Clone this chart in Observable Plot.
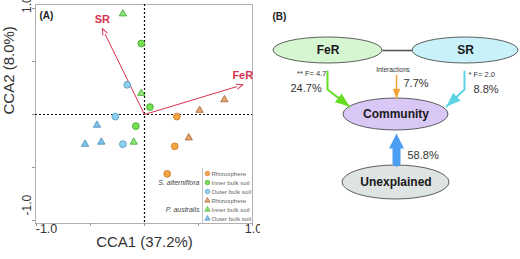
<!DOCTYPE html>
<html>
<head>
<meta charset="utf-8">
<script src="https://cdn.jsdelivr.net/npm/d3@7"></script>
<script src="https://cdn.jsdelivr.net/npm/@observablehq/plot@0.6"></script>
<style>
  html, body { margin: 0; padding: 0; background: white; }
  #wrap { display: flex; width: 520px; height: 259px; overflow: hidden; }
</style>
</head>
<body>
<div id="wrap"></div>
<script>
// ---------- Panel A data ----------
const hosts = ["S. alterniflora", "P. australis"];
const compartments = ["Rhizosphere", "Inner bulk soil", "Outer bulk soil"];
const sampleHost = [
  "S. alterniflora","S. alterniflora","S. alterniflora",
  "S. alterniflora","S. alterniflora","S. alterniflora",
  "S. alterniflora","S. alterniflora","S. alterniflora",
  "P. australis","P. australis","P. australis",
  "P. australis","P. australis","P. australis",
  "P. australis","P. australis","P. australis"
];
const sampleComp = [
  "Rhizosphere","Rhizosphere","Rhizosphere",
  "Inner bulk soil","Inner bulk soil","Inner bulk soil",
  "Outer bulk soil","Outer bulk soil","Outer bulk soil",
  "Rhizosphere","Rhizosphere","Rhizosphere",
  "Inner bulk soil","Inner bulk soil","Inner bulk soil",
  "Outer bulk soil","Outer bulk soil","Outer bulk soil"
];
const cca1 = [0.30, 0.28, 0.21, -0.03, 0.05, -0.08, -0.16, -0.27, -0.20,
              0.51, 0.74, 0.41, -0.20, -0.03, -0.10, -0.44, -0.55, -0.40];
const cca2 = [-0.02, -0.30, -0.56, 0.67, 0.07, -0.11, 0.28, -0.02, -0.28,
              0.04, 0.14, -0.22, 0.95, 0.20, -0.26, -0.10, -0.28, -0.26];
const envVars = ["SR", "FeR"];
const envCCA1 = [-0.39, 0.91];
const envCCA2 = [0.81, 0.28];
const xTicks = [-1, -0.5, 0, 0.5, 1];
const yTicks = [-1, -0.5, 0, 0.5, 1];
const tickLabels = [-1, 1];
const axisTitleX = "CCA1 (37.2%)";
const axisTitleY = "CCA2 (8.0%)";

// ---------- Panel B data ----------
const nodeNames = ["FeR", "SR", "Community", "Unexplained"];
const pathNames = ["FeR", "Interactions", "SR"];
const pathSig = ["**", "", "*"];
const pathF = [4.7, null, 2.0];
const pathPct = ["24.7%", "7.7%", "8.8%"];
const unexplainedPct = "58.8%";

// ---------- styles / layout ----------
const circleFill = ["#f3a443", "#74e050", "#8fd0ec"];
const circleStroke = ["#c8772b", "#3e9f2a", "#4a97c0"];
const triFill = ["#e3a670", "#90e67c", "#82c3e8"];
const triStroke = ["#a5622e", "#3ea52b", "#3f88b8"];
const red = "#d8304f";
const font = "'Liberation Sans', Arial, Helvetica, sans-serif";

const samples = cca1.map((v, i) => ({host: sampleHost[i], comp: sampleComp[i], cca1: v, cca2: cca2[i]}));
const env = envVars.map((n, i) => ({name: n, x: envCCA1[i], y: envCCA2[i]}));
const ci = c => compartments.indexOf(c);

// pixel-per-unit of panel A (for arrowhead angles)
const kx = (252 - 36) / 2, ky = (220 - 8) / 2;

// legend layout (data coordinates inside panel A)
const legX = 0.583, legTop = -0.557, legStep = 0.085;
const legRows = hosts.flatMap((h, hi) => compartments.map((c, cj) => ({host: h, comp: c, y: legTop - (hi * 3 + cj) * legStep})));
const legHosts = hosts.map((h, hi) => ({host: h, y: legTop - (hi * 3 + 1) * legStep,
  y1: legTop - hi * 3 * legStep + 0.045, y2: legTop - (hi * 3 + 2) * legStep - 0.045}));

const plotA = Plot.plot({
  width: 260, height: 259,
  marginLeft: 36, marginRight: 8, marginTop: 8, marginBottom: 39,
  x: {domain: [-1, 1], axis: null},
  y: {domain: [-1, 1], axis: null},
  color: {type: "identity"},
  style: {fontFamily: font, background: "white", overflow: "visible"},
  marks: [
    Plot.frame({stroke: "#b0b0b0", insetTop: -4, insetBottom: -3, insetLeft: -1}),
    Plot.axisX(xTicks, {tickSize: 3, tickFormat: () => "", stroke: "#999", dy: 3, label: null}),
    Plot.axisY(yTicks, {tickSize: 3, tickFormat: () => "", stroke: "#999", dx: -1, label: null}),
    Plot.ruleX([0], {stroke: "#111", strokeDasharray: "2,2", strokeWidth: 1.2, insetTop: -4, insetBottom: -3}),
    Plot.ruleY([0], {stroke: "#111", strokeDasharray: "2,2", strokeWidth: 1.2, insetLeft: -1}),
    Plot.text(tickLabels.filter(d => d < 0), {x: d => d, text: d => d.toFixed(1), frameAnchor: "bottom", dy: 12, dx: 10, fontSize: 12.5, fill: "#333"}),
    Plot.text(tickLabels.filter(d => d > 0), {x: d => d, text: d => d.toFixed(1), frameAnchor: "bottom", dy: 12, dx: 1, fontSize: 12.5, fill: "#333"}),
    Plot.text(tickLabels.filter(d => d > 0), {y: d => d, text: d => d.toFixed(1), frameAnchor: "left", dx: -9.5, dy: 4.5, rotate: -90, fontSize: 12, fill: "#333"}),
    Plot.text(tickLabels.filter(d => d < 0), {y: d => d, text: d => d.toFixed(1), frameAnchor: "left", dx: -9.5, dy: -5, rotate: -90, fontSize: 12, fill: "#333"}),
    Plot.text([axisTitleX], {text: d => d, frameAnchor: "bottom", dy: 26, fontSize: 15, fill: "#333"}),
    Plot.text([axisTitleY], {text: d => d, frameAnchor: "left", dx: -27, rotate: -90, fontSize: 15, fill: "#333"}),
    Plot.text(["(A)"], {text: d => d, frameAnchor: "top-left", dx: 3, dy: 3, fontSize: 10, fontWeight: "bold", fill: "#222"}),
    // environmental arrows
    Plot.link(env, {x1: () => 0, y1: () => 0, x2: "x", y2: "y", stroke: red, strokeWidth: 1}),
    Plot.vector(env, {x: "x", y: "y", rotate: d => Math.atan2(d.x * kx, d.y * ky) * 180 / Math.PI,
      length: 6, r: 2.4, shape: "spike", anchor: "end", fill: "white", stroke: red, strokeWidth: 1}),
    Plot.text(env, {x: "x", y: "y", text: "name", dy: -9, fill: red, fontWeight: "bold", fontSize: 11}),
    // samples
    Plot.dot(samples.filter(d => d.host === hosts[0]), {x: "cca1", y: "cca2", symbol: "circle", r: 3.4,
      fill: d => circleFill[ci(d.comp)], stroke: d => circleStroke[ci(d.comp)], strokeWidth: 0.8}),
    Plot.dot(samples.filter(d => d.host === hosts[1]), {x: "cca1", y: "cca2", symbol: "triangle", r: 2.7,
      fill: d => triFill[ci(d.comp)], stroke: d => triStroke[ci(d.comp)], strokeWidth: 0.8}),
    // legend
    Plot.ruleX(legHosts, {x: () => legX - 0.046, y1: "y1", y2: "y2", stroke: "#c4c4c4", strokeWidth: 1}),
    Plot.dot(legRows.filter(d => d.host === hosts[0]), {x: () => legX, y: "y", symbol: "circle", r: 2.3,
      fill: d => circleFill[ci(d.comp)], stroke: d => circleStroke[ci(d.comp)], strokeWidth: 0.6}),
    Plot.dot(legRows.filter(d => d.host === hosts[1]), {x: () => legX, y: "y", symbol: "triangle", r: 2.0,
      fill: d => triFill[ci(d.comp)], stroke: d => triStroke[ci(d.comp)], strokeWidth: 0.6}),
    Plot.text(legRows, {x: () => legX, y: "y", text: "comp", dx: 4, textAnchor: "start", fontSize: 6.2, fill: "#666"}),
    Plot.text(legHosts, {x: () => legX, y: "y", text: "host", dx: -8, textAnchor: "end", fontSize: 7, fontStyle: "italic", fill: "#444"})
  ]
});

// ---------- Panel B layout ----------
const nodeCx = [67.5, 205, 135.5, 135.5];
const nodeCy = [50, 50, 114, 182];
const nodeRx = [54.5, 53, 52.5, 53.5];
const nodeRy = [13, 13, 16, 17];
const nodeFill = ["#d6f6d1", "#c8f1f9", "#d9c7f6", "#dee3e3"];
const pathX = [[67, 67, 89], [136, 136], [204, 204, 186]];
const pathY = [[71, 89, 106], [75, 98], [71, 89, 106]];
const pathColor = ["#66dd22", "#f2a235", "#5fd3e6"];
const pathWidth = [2, 1.5, 2];
const headLen = [13, 9, 13];
const sigPos = [[66, 73.5, "end"], null, [208, 74, "start"]];
const pctPos = [[30, 88], [143, 83], [213, 89]];
const unexpArrow = {x: 136, y1: 162, y2: 146, tip: 133};

const nodes = nodeNames.map((n, i) => ({name: n, cx: nodeCx[i], cy: nodeCy[i], rx: nodeRx[i], ry: nodeRy[i], fill: nodeFill[i]}));
const segs = pathNames.flatMap((n, i) => pathX[i].map((x, j) => ({name: n, x, y: pathY[i][j], color: pathColor[i], w: pathWidth[i]})));
const heads = pathNames.map((n, i) => {
  const k = pathX[i].length - 1;
  const dx = pathX[i][k] - pathX[i][k - 1], dy = pathY[i][k] - pathY[i][k - 1];
  return {name: n, x: pathX[i][k], y: pathY[i][k], rot: Math.atan2(dx, -dy) * 180 / Math.PI,
    len: headLen[i], color: pathColor[i]};
});
const sigLabels = pathNames.map((n, i) => sigPos[i] ? {text: `${pathSig[i]} F= ${pathF[i].toFixed(1)}`, x: sigPos[i][0], y: sigPos[i][1], anchor: sigPos[i][2]} : null).filter(d => d);
const pctLabels = pathNames.map((n, i) => ({text: pathPct[i], x: pctPos[i][0], y: pctPos[i][1]}));
const byName = Object.fromEntries(nodes.map(d => [d.name, d]));

const plotB = Plot.plot({
  width: 260, height: 259, margin: 0,
  x: {domain: [0, 260], range: [0, 260], axis: null},
  y: {domain: [0, 259], range: [0, 259], axis: null},
  color: {type: "identity"},
  style: {fontFamily: font, background: "white", overflow: "visible"},
  marks: [
    Plot.text(["(B)"], {text: d => d, x: () => 12, y: () => 16, textAnchor: "start", fontSize: 10, fontWeight: "bold", fill: "#222"}),
    Plot.link([[byName.FeR, byName.SR]], {x1: d => d[0].cx + d[0].rx, x2: d => d[1].cx - d[1].rx,
      y1: d => d[0].cy, y2: d => d[1].cy, stroke: "#555", strokeWidth: 1.6}),
    Plot.rect(nodes, {x1: d => d.cx - d.rx, x2: d => d.cx + d.rx, y1: d => d.cy - d.ry, y2: d => d.cy + d.ry,
      rx: 300, ry: 300, fill: "fill", stroke: "#3a3a3a", strokeWidth: 0.8}),
    Plot.text(nodes, {x: "cx", y: "cy", text: "name", fontWeight: "bold", fontSize: 12, fill: "#1a1a1a"}),
    Plot.line(segs, {x: "x", y: "y", z: "name", stroke: "color", strokeWidth: "w"}),
    Plot.vector(heads.filter(d => d.name !== "Interactions"), {x: "x", y: "y", rotate: "rot", length: "len", r: 5.5, shape: "spike", anchor: "end", fill: "color", stroke: "none"}),
    Plot.vector(heads.filter(d => d.name === "Interactions"), {x: "x", y: "y", rotate: "rot", length: "len", r: 3.8, shape: "spike", anchor: "end", fill: "color", stroke: "none"}),
    Plot.line([{x: unexpArrow.x, y: unexpArrow.y1}, {x: unexpArrow.x, y: unexpArrow.y2}], {x: "x", y: "y", stroke: "#4a9ff2", strokeWidth: 8}),
    Plot.vector([unexpArrow], {x: "x", y: "tip", rotate: 0, length: 15, r: 7.5, shape: "spike", anchor: "end", fill: "#4a9ff2", stroke: "none"}),
    Plot.text(sigLabels.filter(d => d.anchor === "end"), {x: "x", y: "y", text: "text", textAnchor: "end", fontSize: 7.5, fill: "#333"}),
    Plot.text(sigLabels.filter(d => d.anchor === "start"), {x: "x", y: "y", text: "text", textAnchor: "start", fontSize: 7.5, fill: "#333"}),
    Plot.text(["Interactions"], {text: d => d, x: () => 132.5, y: () => 69.5, fontSize: 6.5, fill: "#333"}),
    Plot.text(pctLabels, {x: "x", y: "y", text: "text", textAnchor: "start", fontSize: 11, fill: "#333"}),
    Plot.text([unexplainedPct], {text: d => d, x: () => 147, y: () => 154.5, textAnchor: "start", fontSize: 11, fill: "#333"})
  ]
});

document.getElementById("wrap").append(plotA, plotB);
</script>
</body>
</html>
